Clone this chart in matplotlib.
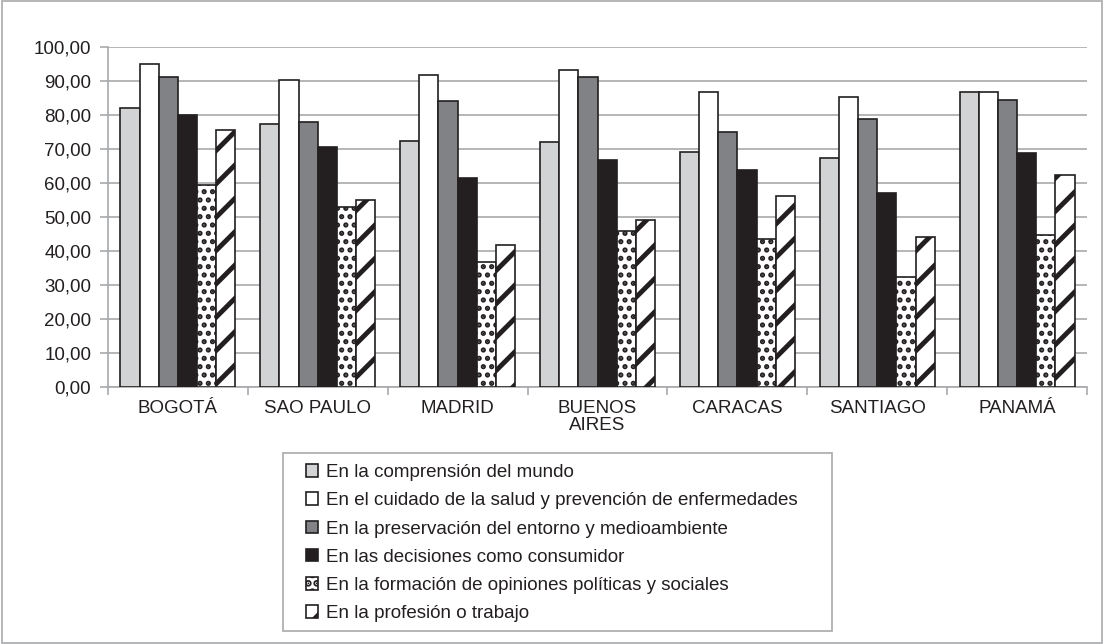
import numpy as np
import matplotlib
matplotlib.use("Agg")
import matplotlib.pyplot as plt
from matplotlib.patches import Rectangle

plt.rcParams['font.family'] = ['Liberation Sans', 'DejaVu Sans']
plt.rcParams['hatch.color'] = '#231f20'

cities = ['BOGOTÁ', 'SAO PAULO', 'MADRID', 'BUENOS\nAIRES', 'CARACAS', 'SANTIAGO', 'PANAMÁ']
series = [
    'En la comprensión del mundo',
    'En el cuidado de la salud y prevención de enfermedades',
    'En la preservación del entorno y medioambiente',
    'En las decisiones como consumidor',
    'En la formación de opiniones políticas y sociales',
    'En la profesión o trabajo',
]
comprension = [82.2, 77.5, 72.5, 72.2, 69.0, 67.5, 86.8]
salud = [95.0, 90.4, 91.8, 93.3, 86.8, 85.4, 86.8]
entorno = [91.2, 77.8, 84.2, 91.2, 74.9, 78.7, 84.5]
consumidor = [80.1, 70.5, 61.4, 66.7, 63.7, 57.0, 68.7]
opiniones = [59.4, 52.9, 36.8, 45.9, 43.6, 32.5, 44.7]
profesion = [75.7, 55.0, 41.8, 49.1, 56.1, 44.2, 62.3]
values = [comprension, salud, entorno, consumidor, opiniones, profesion]

faces = ['#d1d3d4', '#ffffff', '#808285', '#231f20', '#ffffff', '#ffffff']
hatches = [None, None, None, None, '..', '/']
grid_c = '#a7a9ac'
text_c = '#231f20'
fs = 13.5

W, H = 1104, 644
fig = plt.figure(figsize=(W / 100, H / 100), dpi=100)
ax = fig.add_axes([108 / W, 1 - 387 / H, (1087 - 108) / W, (387 - 47) / H])

x = np.arange(len(cities))
w = 0.137
bars = []
for i, vals in enumerate(values):
    plt.rcParams['hatch.linewidth'] = 3.5 if hatches[i] == '/' else 2.5
    b = ax.bar(x + (i - 2.5) * w, vals, w, color=faces[i], edgecolor=text_c,
               linewidth=1.2, hatch=hatches[i], label=series[i], zorder=3)
    bars.append(b)

ax.set_xlim(-0.5, len(cities) - 0.5)
ax.set_ylim(0, 100)
ax.set_yticks(np.arange(0, 101, 10))
ax.set_yticklabels([f'{v:.2f}'.replace('.', ',') for v in np.arange(0, 101, 10)])
ax.yaxis.grid(True, color=grid_c, linewidth=1.2, zorder=0)
ax.set_xticks(np.arange(-0.5, len(cities), 1.0))
ax.set_xticklabels([])
ax.set_xticks(x, minor=True)
ax.set_xticklabels(cities, minor=True, linespacing=1.0)
ax.tick_params(axis='x', which='minor', length=0, pad=9, labelsize=fs, colors=text_c)
ax.tick_params(axis='x', which='major', length=6, color=grid_c, width=1.2)
ax.tick_params(axis='y', length=6, color=grid_c, width=1.2, labelsize=fs, pad=6, labelcolor=text_c)
for s in ['top', 'right']:
    ax.spines[s].set_visible(False)
for s in ['left', 'bottom']:
    ax.spines[s].set_color(grid_c)
    ax.spines[s].set_linewidth(1.2)

# legend: entries without frame, box drawn separately
leg = fig.legend(handles=bars, labels=series, loc='upper left',
                 bbox_to_anchor=(306 / W, 1 - 464 / H), fontsize=fs,
                 frameon=False, handlelength=0.65, handleheight=0.65,
                 handletextpad=0.4, labelspacing=0.6, borderpad=0, borderaxespad=0)
for t in leg.get_texts():
    t.set_color(text_c)
fig.patches.append(Rectangle((283 / W, 1 - 631 / H), (832 - 283) / W, (631 - 453) / H,
                             transform=fig.transFigure, fill=False,
                             edgecolor=grid_c, linewidth=1.2))

fig.patches.append(Rectangle((0.002, 0.002), 0.996, 0.996, transform=fig.transFigure,
                             fill=False, edgecolor=grid_c, linewidth=1.2))

fig.savefig('out.png', dpi=100)
